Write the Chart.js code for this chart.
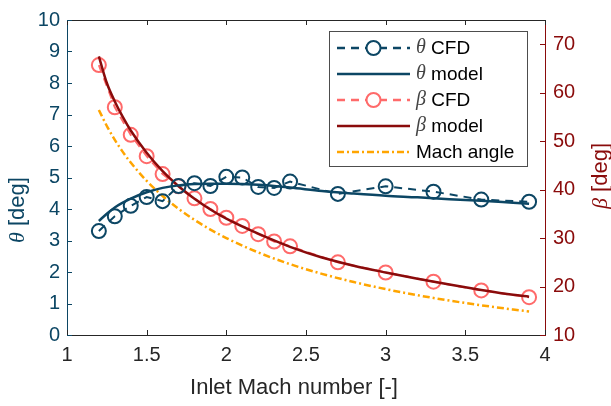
<!DOCTYPE html>
<html>
<head>
<meta charset="utf-8">
<script src="https://cdn.jsdelivr.net/npm/chart.js@4.4.0/dist/chart.umd.min.js"></script>
<style>
  body { margin: 0; background: #fff; }
  #wrap { width: 611px; height: 406px; }
</style>
</head>
<body>
<div id="wrap"><canvas id="mycanvas" width="611" height="406"></canvas></div>
<script>
// data
var machCFD = [1.2, 1.3, 1.4, 1.5, 1.6, 1.7, 1.8, 1.9, 2.0, 2.1, 2.2, 2.3, 2.4, 2.7, 3.0, 3.3, 3.6, 3.9];
var thetaCFD = [3.3, 3.77, 4.1, 4.38, 4.25, 4.73, 4.82, 4.73, 5.02, 5.0, 4.7, 4.67, 4.87, 4.48, 4.72, 4.55, 4.3, 4.23];
var betaCFD = [65.7, 57.0, 51.3, 46.9, 43.2, 40.7, 38.2, 36.0, 34.2, 32.5, 30.8, 29.3, 28.3, 25.0, 22.9, 21.0, 19.2, 17.8];

var machModel = [1.2, 1.25, 1.3, 1.35, 1.4, 1.5, 1.6, 1.7, 1.8, 1.9, 2.0, 2.2, 2.4, 2.6, 2.8, 3.0, 3.2, 3.4, 3.6, 3.8, 3.9];
var thetaModel = [3.62, 3.85, 4.05, 4.2, 4.33, 4.53, 4.67, 4.75, 4.79, 4.8, 4.8, 4.77, 4.68, 4.57, 4.49, 4.42, 4.37, 4.31, 4.26, 4.2, 4.17];
var betaModel = [67.5, 62.0, 58.2, 55.0, 52.2, 47.6, 43.8, 40.7, 38.1, 35.9, 34.0, 30.9, 28.2, 26.0, 24.3, 22.9, 21.6, 20.4, 19.3, 18.3, 17.9];
var machAngle = [56.44, 53.13, 50.28, 47.79, 45.58, 41.81, 38.68, 36.03, 33.75, 31.76, 30.0, 27.04, 24.62, 22.62, 20.92, 19.47, 18.21, 17.10, 16.13, 15.26, 14.86];

var xTicks = [1, 1.5, 2, 2.5, 3, 3.5, 4];
var thetaTicks = [0, 1, 2, 3, 4, 5, 6, 7, 8, 9, 10];
var betaTicks = [10, 20, 30, 40, 50, 60, 70];

var blue = '#0c4664';
var darkRed = '#8a0b0b';
var pink = '#ff6a6a';
var orange = '#ffa500';
var axisGray = '#262626';
var sans = '"Liberation Sans", Arial, sans-serif';

function pts(xs, ys) {
	var out = [];
	for (var i in xs) out.push({x: xs[i], y: ys[i]});
	return out;
}

var legendItems = [
	{sym: 'θ', text: ' CFD', color: blue, dash: [8, 6], marker: true},
	{sym: 'θ', text: ' model', color: blue, dash: [], marker: false},
	{sym: 'β', text: ' CFD', color: pink, dash: [8, 6], marker: true},
	{sym: 'β', text: ' model', color: darkRed, dash: [], marker: false},
	{sym: '', text: 'Mach angle', color: orange, dash: [7, 3, 2, 3], marker: false}
];

var decor = {
	id: 'decor',
	afterDraw: function(chart) {
		var ctx = chart.ctx;
		var a = chart.chartArea;
		var sx = chart.scales.x, sy = chart.scales.y, sy2 = chart.scales.y2;
		ctx.save();
		// top border
		ctx.strokeStyle = axisGray;
		ctx.lineWidth = 1;
		ctx.beginPath();
		ctx.moveTo(a.left, a.top + 0.5);
		ctx.lineTo(a.right, a.top + 0.5);
		ctx.stroke();
		// inner ticks
		ctx.beginPath();
		xTicks.forEach(function(v) {
			var px = Math.round(sx.getPixelForValue(v)) + 0.5;
			ctx.moveTo(px, a.bottom);
			ctx.lineTo(px, a.bottom - 5);
			ctx.moveTo(px, a.top);
			ctx.lineTo(px, a.top + 5);
		});
		ctx.stroke();
		ctx.strokeStyle = blue;
		ctx.beginPath();
		thetaTicks.forEach(function(v) {
			var py = Math.round(sy.getPixelForValue(v)) + 0.5;
			ctx.moveTo(a.left, py);
			ctx.lineTo(a.left + 5, py);
		});
		ctx.stroke();
		ctx.strokeStyle = darkRed;
		ctx.beginPath();
		betaTicks.forEach(function(v) {
			var py = Math.round(sy2.getPixelForValue(v)) + 0.5;
			ctx.moveTo(a.right, py);
			ctx.lineTo(a.right - 5, py);
		});
		ctx.stroke();

		// axis titles
		ctx.textBaseline = 'middle';
		ctx.fillStyle = axisGray;
		ctx.font = '22px ' + sans;
		ctx.textAlign = 'center';
		ctx.fillText('Inlet Mach number [-]', (a.left + a.right) / 2 - 12, 388);

		function symTitle(sym, rest, color, x, y, rot) {
			ctx.save();
			ctx.translate(x, y);
			ctx.rotate(rot);
			ctx.fillStyle = color;
			ctx.font = 'italic 22px "Liberation Serif", serif';
			var w1 = ctx.measureText(sym).width;
			ctx.font = '22px ' + sans;
			var w2 = ctx.measureText(rest).width;
			var x0 = -(w1 + w2) / 2;
			ctx.textAlign = 'left';
			ctx.font = 'italic 22px "Liberation Serif", serif';
			ctx.fillText(sym, x0, 0);
			ctx.font = '22px ' + sans;
			ctx.fillText(rest, x0 + w1, 0);
			ctx.restore();
		}
		symTitle('θ', ' [deg]', blue, 18, 210, -Math.PI / 2);
		symTitle('β', ' [deg]', darkRed, 601, 176, -Math.PI / 2);

		// legend
		var bx = 329.5, by = 31.5, bw = 198, bh = 135;
		ctx.fillStyle = '#fff';
		ctx.fillRect(bx, by, bw, bh);
		ctx.strokeStyle = '#4d4d4d';
		ctx.lineWidth = 1;
		ctx.setLineDash([]);
		ctx.strokeRect(bx, by, bw, bh);
		legendItems.forEach(function(it, i) {
			var ly = 48 + i * 26;
			ctx.strokeStyle = it.color;
			ctx.lineWidth = 2.5;
			ctx.setLineDash(it.dash);
			ctx.beginPath();
			ctx.moveTo(337, ly);
			ctx.lineTo(410, ly);
			ctx.stroke();
			ctx.setLineDash([]);
			if (it.marker) {
				ctx.fillStyle = '#fff';
				ctx.lineWidth = 2;
				ctx.beginPath();
				ctx.arc(373.5, ly, 7, 0, Math.PI * 2);
				ctx.fill();
				ctx.stroke();
			}
			var tx = 416;
			ctx.textAlign = 'left';
			ctx.textBaseline = 'middle';
			if (it.sym) {
				ctx.fillStyle = '#444';
				ctx.font = 'italic 20px "Liberation Serif", serif';
				ctx.fillText(it.sym, tx, ly);
				tx += ctx.measureText(it.sym).width;
			}
			ctx.fillStyle = '#000';
			ctx.font = '19px ' + sans;
			ctx.fillText(it.text, tx, ly + 1);
		});
		ctx.restore();
	}
};

var ctx = document.getElementById('mycanvas');

var tickFont = { size: 20, family: sans };

var chart = new Chart(ctx, {
	type: 'line',
	data: {
		datasets: [
			{
				label: 'θ CFD',
				data: pts(machCFD, thetaCFD),
				yAxisID: 'y',
				borderColor: blue,
				borderWidth: 2,
				borderDash: [8, 6],
				pointRadius: 7,
				pointBorderWidth: 2,
				pointBorderColor: blue,
				pointBackgroundColor: 'rgba(0,0,0,0)',
				order: 2
			},
			{
				label: 'θ model',
				data: pts(machModel, thetaModel),
				yAxisID: 'y',
				borderColor: blue,
				borderWidth: 2.5,
				pointRadius: 0,
				cubicInterpolationMode: 'monotone',
				order: 1
			},
			{
				label: 'β CFD',
				data: pts(machCFD, betaCFD),
				yAxisID: 'y2',
				borderColor: pink,
				borderWidth: 2,
				borderDash: [8, 6],
				pointRadius: 7,
				pointBorderWidth: 2,
				pointBorderColor: pink,
				pointBackgroundColor: 'rgba(0,0,0,0)',
				order: 4
			},
			{
				label: 'β model',
				data: pts(machModel, betaModel),
				yAxisID: 'y2',
				borderColor: darkRed,
				borderWidth: 2.5,
				pointRadius: 0,
				cubicInterpolationMode: 'monotone',
				order: 3
			},
			{
				label: 'Mach angle',
				data: pts(machModel, machAngle),
				yAxisID: 'y2',
				borderColor: orange,
				borderWidth: 2.5,
				borderDash: [7, 3, 2, 3],
				pointRadius: 0,
				cubicInterpolationMode: 'monotone',
				order: 5
			}
		]
	},
	options: {
		responsive: false,
		animation: false,
		layout: { padding: { top: 15, left: 0, right: 0, bottom: 0 } },
		plugins: {
			legend: { display: false },
			tooltip: { enabled: false }
		},
		scales: {
			x: {
				type: 'linear',
				min: 1,
				max: 4,
				afterFit: function(s) { s.height = 71; },
				afterBuildTicks: function(s) { s.ticks = xTicks.map(function(v) { return {value: v}; }); },
				grid: { drawOnChartArea: false, drawTicks: false },
				border: { color: axisGray, width: 1 },
				ticks: { color: axisGray, padding: 8, font: tickFont, callback: function(v) { return String(v); } }
			},
			y: {
				position: 'left',
				min: 0,
				max: 10,
				afterFit: function(s) { s.width = 67; },
				afterBuildTicks: function(s) { s.ticks = thetaTicks.map(function(v) { return {value: v}; }); },
				grid: { drawOnChartArea: false, drawTicks: false },
				border: { color: blue, width: 1 },
				ticks: { color: blue, padding: 7, font: tickFont }
			},
			y2: {
				position: 'right',
				min: 10,
				max: 75,
				afterFit: function(s) { s.width = 66; },
				afterBuildTicks: function(s) { s.ticks = betaTicks.map(function(v) { return {value: v}; }); },
				grid: { drawOnChartArea: false, drawTicks: false },
				border: { color: darkRed, width: 1 },
				ticks: { color: darkRed, padding: 8, font: tickFont }
			}
		}
	},
	plugins: [decor]
});
</script>
</body>
</html>
